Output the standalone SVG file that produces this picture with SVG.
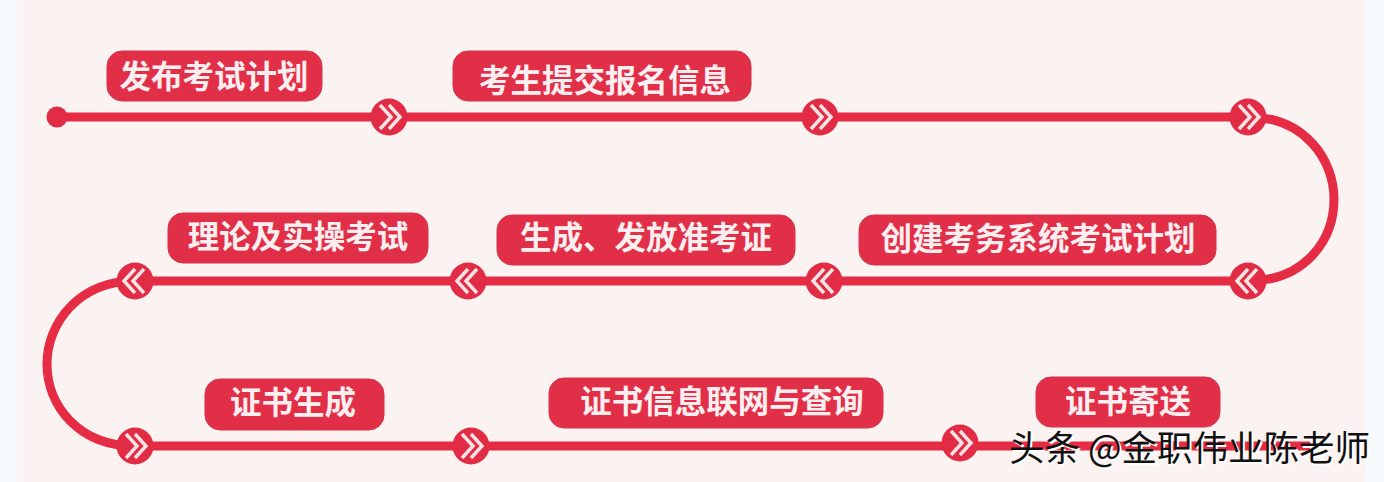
<svg xmlns="http://www.w3.org/2000/svg" width="1384" height="482" viewBox="0 0 1384 482">
<style>
.lbl{fill:#e22f48;stroke:#d8304a;stroke-width:1}
.t{font-family:"Noto Sans CJK SC","Noto Sans",sans-serif;font-weight:700;font-size:31.500px;fill:#fdeef0;text-anchor:middle}
.wire{fill:none;stroke:#e62c44;stroke-width:9}
.dot{fill:#e22c46}
.chev{fill:none;stroke:#fbe3e4;stroke-width:3.500}
.wm{font-family:"Noto Sans CJK SC","Noto Sans",sans-serif;font-size:35.500px}
</style>
<defs>
<g id="fw"><circle class="dot" r="18.500"/><path class="chev" d="M-9-12L2 0L-9 12M0-12L11 0L0 12"/></g>
<g id="bw"><circle class="dot" r="18.500"/><path class="chev" d="M9-12L-2 0L9 12M0-12L-11 0L0 12"/></g>
</defs>
<rect width="1384" height="482" fill="#f7fafd"/>
<rect x="17" width="1348" height="482" fill="#fbf3f1"/>
<g id="connectors">
<path class="wire" d="M57 117H1248C1305 117 1334 160 1334 199C1334 240 1305 281 1248 281H135C78 281 47 324 47 364C47 405 78 446 135 446H1310"/>
</g>
<g id="start"><circle class="dot" cx="57" cy="117" r="10.500"/></g>
<g id="n1"><rect class="lbl" x="107" y="51" width="215" height="50" rx="15"/><text class="t" x="214" y="88">发布考试计划</text></g>
<g id="n2"><rect class="lbl" x="453" y="51" width="298" height="50" rx="15"/><text class="t" x="605" y="92">考生提交报名信息</text></g>
<g id="n3"><rect class="lbl" x="859" y="215" width="357" height="50" rx="15"/><text class="t" x="1038" y="250">创建考务系统考试计划</text></g>
<g id="n4"><rect class="lbl" x="497" y="215" width="298" height="50" rx="15"/><text class="t" x="646" y="249">生成、发放准考证</text></g>
<g id="n5"><rect class="lbl" x="168" y="213" width="260" height="50" rx="15"/><text class="t" x="298" y="248">理论及实操考试</text></g>
<g id="n6"><rect class="lbl" x="205" y="379" width="179" height="51" rx="15"/><text class="t" x="293" y="414">证书生成</text></g>
<g id="n7"><rect class="lbl" x="549" y="378" width="334" height="50" rx="15"/><text class="t" x="722" y="413">证书信息联网与查询</text></g>
<g id="n8"><rect class="lbl" x="1036" y="377" width="184" height="50" rx="15"/><text class="t" x="1128" y="413">证书寄送</text></g>
<use href="#fw" x="389" y="117"/><use href="#fw" x="820" y="117"/><use href="#fw" x="1248" y="117"/>
<use href="#bw" x="1248" y="281"/><use href="#bw" x="824" y="281"/><use href="#bw" x="468" y="281"/><use href="#bw" x="135" y="281"/>
<use href="#fw" x="135" y="446"/><use href="#fw" x="471" y="446"/><use href="#fw" x="960" y="443"/>
<g id="watermark">
<text class="wm" x="1011" y="463" fill="#fff">头条 @金职伟业陈老师</text>
<text class="wm" x="1009" y="461" fill="#111">头条 @金职伟业陈老师</text>
</g>
</svg>
